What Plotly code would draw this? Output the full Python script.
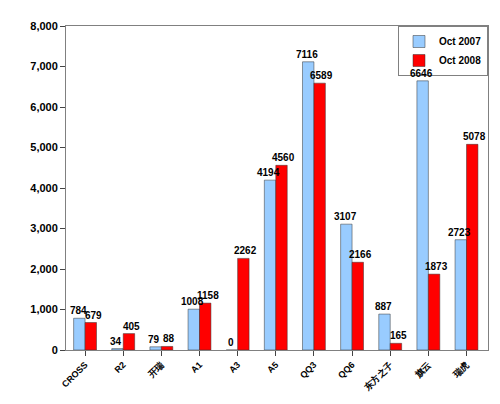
import plotly.graph_objects as go

models = ["CROSS", "R2", "开瑞", "A1", "A3", "A5", "QQ3", "QQ6", "东方之子", "旗云", "瑞虎"]
oct_2007 = [784, 34, 79, 1008, 0, 4194, 7116, 3107, 887, 6646, 2723]
oct_2008 = [679, 405, 88, 1158, 2262, 4560, 6589, 2166, 165, 1873, 5078]

font = "Liberation Sans, Arial, sans-serif"

fig = go.Figure()
fig.add_bar(x=models, y=oct_2007, name="Oct 2007",
            marker=dict(color="#99ccff", line=dict(color="#333333", width=0.5)))
fig.add_bar(x=models, y=oct_2008, name="Oct 2008",
            marker=dict(color="#ff0000", line=dict(color="#333333", width=0.5)))

# value labels as annotations so they are never truncated
for m, a, b in zip(models, oct_2007, oct_2008):
    fig.add_annotation(x=m, y=a, text=str(a), showarrow=False, xshift=-7,
                       yanchor="bottom", font=dict(size=10, weight="bold"))
    fig.add_annotation(x=m, y=b, text=str(b), showarrow=False, xshift=8,
                       yanchor="bottom", font=dict(size=10, weight="bold"))

fig.update_layout(
    width=500, height=404,
    margin=dict(l=58, r=20, t=18, b=62),
    paper_bgcolor="white", plot_bgcolor="white",
    barmode="group", bargap=0.4, bargroupgap=0,
    font=dict(family=font, size=11, color="black"),
    showlegend=True,
    legend=dict(x=1, y=1, xanchor="right", yanchor="top",
                bordercolor="#808080", borderwidth=1, bgcolor="white",
                itemwidth=30, tracegroupgap=2,
                font=dict(size=10, family=font, weight="bold")),
)
fig.update_xaxes(tickangle=-45, showline=True, linecolor="#808080",
                 mirror=True, ticks="outside", tickfont=dict(size=9, weight="bold"))
fig.update_yaxes(range=[0, 8000], dtick=1000, tickformat=",",
                 showgrid=False, showline=True, linecolor="#808080", mirror=True,
                 ticks="outside", tickfont=dict(size=11, weight="bold"))

fig.write_html("out.html")
